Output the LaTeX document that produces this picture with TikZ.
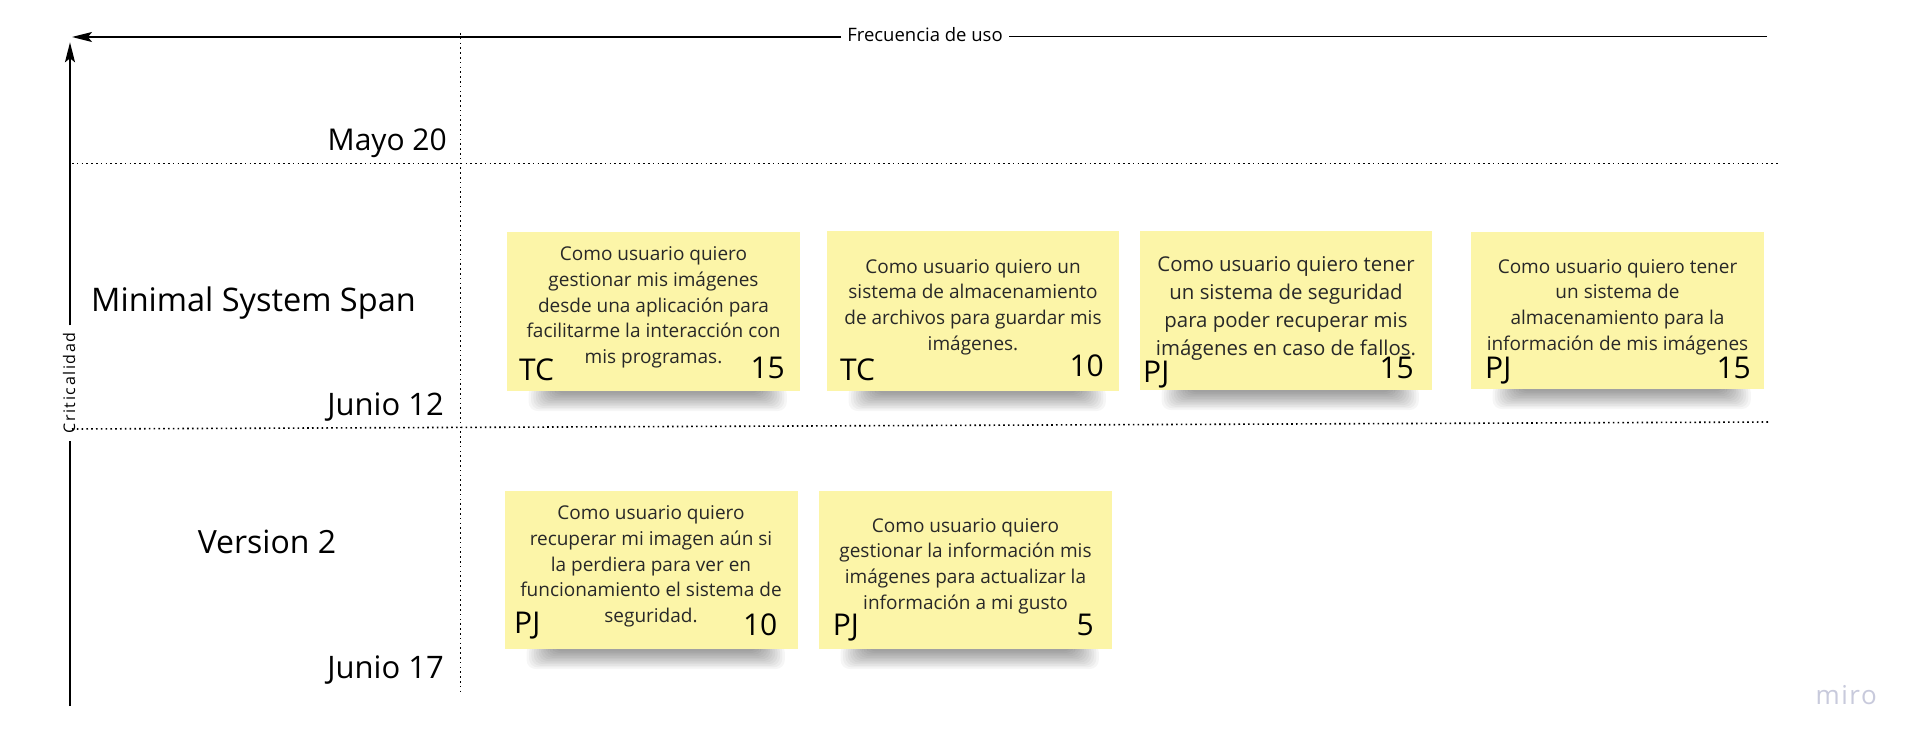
\documentclass[tikz,border=0pt]{standalone}
\usepackage{fontspec}
\setmainfont{Open Sans}
\newfontfamily\critfont[LetterSpace=10]{Open Sans}
\newfontfamily\mirofont[LetterSpace=6]{Open Sans}
\usetikzlibrary{arrows.meta,calc}
\definecolor{notefill}{RGB}{252,245,168}
\definecolor{notetext}{RGB}{40,40,40}
\definecolor{mirogray}{RGB}{200,202,220}
\newcommand\fs[2]{\fontsize{#1}{#2}\selectfont}
\pgfdeclarelayer{back}
\pgfdeclarelayer{shade}
\pgfsetlayers{back,shade,main}
\newcommand\noteshadow[1]{%
  \foreach \k in {0,...,11}{%
    \fill[black,opacity=0.035,rounded corners=9pt]
      ($(#1.south west)+(48-2.4*\k,-6)$) rectangle ($(#1.south east)+(-40+2.4*\k,2+1.6*\k)$);}}
\begin{document}
\begin{tikzpicture}[x=1pt,y=-1pt,
  axis/.style={line width=1.6pt,black},
  tipped/.style={-{Stealth[length=20pt,width=10pt,inset=4pt]}},
  gridline/.style={line width=1.6pt,dash pattern=on 1.6pt off 3.2pt},
  sticky/.style={fill=notefill,inner sep=0pt,anchor=north west},
  story/.style={align=center,text=notetext,font=\fs{19}{25.7},inner sep=0pt},
  bigstory/.style={align=center,text=notetext,font=\fs{20.4}{28},inner sep=0pt},
  tag/.style={font=\fs{30}{32},text=black,inner sep=0pt,anchor=base west},
  pts/.style={font=\fs{30}{32},text=black,inner sep=0pt,anchor=base east},
  lane/.style={font=\fs{31}{36},text=black,inner sep=0pt},
]
\begin{pgfonlayer}{back}
\fill[white] (0,0) rectangle (1920,749);
\end{pgfonlayer}
\useasboundingbox (0,0) rectangle (1920,749);

% axes
\coordinate (xr) at (1767,36.7);
\coordinate (xtip) at (72,37);
\node[font=\fs{18.5}{20},inner xsep=6pt,inner ysep=0pt] (freq) at (925,35) {Frecuencia de uso};
\draw[axis] (xr) -- (freq.east |- xr);
\draw[axis,tipped] (freq.west |- xtip) -- (xtip);

\coordinate (ybot) at (70,706);
\coordinate (ytip) at (70,42.3);
\node[rotate=90,font={\critfont\fs{16}{18}},inner xsep=7pt,inner ysep=0pt] (crit) at (69,383) {Criticalidad};
\draw[axis] (ybot) -- (ybot |- crit.west);
\draw[axis,tipped] (ytip |- crit.east) -- (ytip);

% grid
\coordinate (h1a) at (72,163.5);
\coordinate (h1b) at (1779,163.5);
\coordinate (h2a) at (72,429);
\coordinate (h2b) at (1769,422);
\coordinate (va) at (460.5,33);
\coordinate (vb) at (460.5,691);
\draw[gridline] (h1a) -- (h1b);
\draw[gridline] (h2a) -- (h2b);
\draw[gridline] (va) -- (vb);

% lane labels
\node[lane,font=\fs{30}{36},anchor=base east] (mayo) at (447,151) {Mayo 20};
\node[lane,font=\fs{32.5}{36},anchor=base west] (mss) at (91,311) {Minimal System Span};
\node[lane,anchor=base east] (j12) at (444,415) {Junio 12};
\node[lane,font=\fs{32}{36},anchor=base] (v2) at (267,553) {Version 2};
\node[lane,anchor=base east] (j17) at (444,678) {Junio 17};

% notes
\node[sticky,minimum width=293pt,minimum height=159pt] (n1) at (507,232) {};
\node[story] (s1) at (653.5,307.5) {Como usuario quiero\\gestionar mis imágenes\\desde una aplicación para\\facilitarme la interacción con\\mis programas.};
\node[tag] (a1) at (519,380) {TC};
\node[pts] (p1) at (785,378) {15};

\node[sticky,minimum width=292pt,minimum height=160pt] (n2) at (827,231) {};
\node[story] (s2) at (973,307) {Como usuario quiero un\\sistema de almacenamiento\\de archivos para guardar mis\\imágenes.};
\node[tag] (a2) at (840,380) {TC};
\node[pts] (p2) at (1104,376) {10};

\node[sticky,minimum width=292pt,minimum height=159pt] (n3) at (1140,231) {};
\node[bigstory] (s3) at (1286,308) {Como usuario quiero tener\\un sistema de seguridad\\para poder recuperar mis\\imágenes en caso de fallos.};
\node[tag] (a3) at (1143,382) {PJ};
\node[pts] (p3) at (1414,378) {15};

\node[sticky,minimum width=293pt,minimum height=157pt] (n4) at (1471,232) {};
\node[story] (s4) at (1617.5,307) {Como usuario quiero tener\\un sistema de\\almacenamiento para la\\información de mis imágenes};
\node[tag] (a4) at (1485,378) {PJ};
\node[pts] (p4) at (1751,378) {15};

\node[sticky,minimum width=293pt,minimum height=158pt] (n5) at (505,491) {};
\node[story] (s5) at (651,566.5) {Como usuario quiero\\recuperar mi imagen aún si\\la perdiera para ver en\\funcionamiento el sistema de\\seguridad.};
\node[tag] (a5) at (514,633) {PJ};
\node[pts] (p5) at (777.5,635) {10};

\node[sticky,minimum width=293pt,minimum height=158pt] (n6) at (819,491) {};
\node[story] (s6) at (965.5,566) {Como usuario quiero\\gestionar la información mis\\imágenes para actualizar la\\información a mi gusto};
\node[tag] (a6) at (832.6,635) {PJ};
\node[pts] (p6) at (1094,635) {5};

\begin{pgfonlayer}{shade}
\noteshadow{n1}\noteshadow{n2}\noteshadow{n3}\noteshadow{n4}\noteshadow{n5}\noteshadow{n6}
\end{pgfonlayer}

\node[font={\mirofont\fs{26}{28}},text=mirogray,anchor=base east,inner sep=0pt] (miro) at (1877,704) {miro};
\end{tikzpicture}
\end{document}
